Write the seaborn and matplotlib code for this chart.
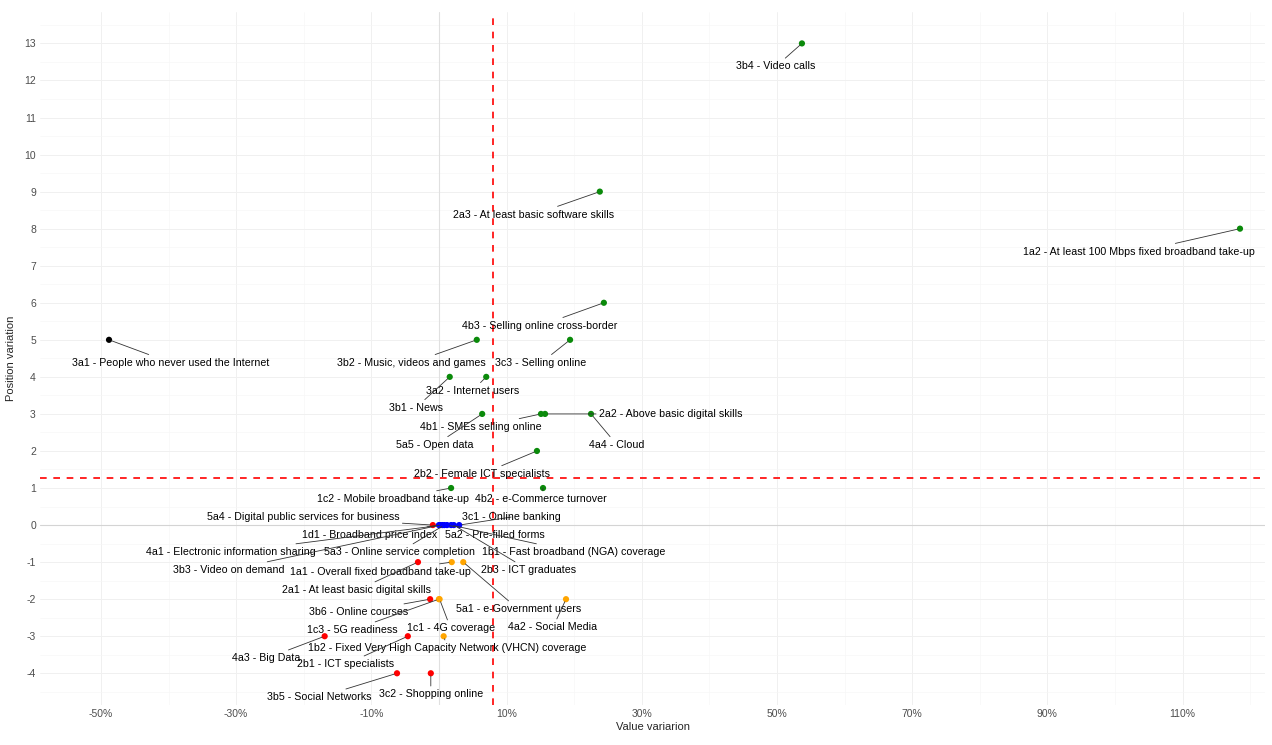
import numpy as np
import pandas as pd
import seaborn as sns
import matplotlib.pyplot as plt
from matplotlib.ticker import MultipleLocator, PercentFormatter

# Indicatori: codice, nome, variazione del valore e della posizione
codes = ["3b4", "2a3", "1a2", "4b3", "3a1", "3b2", "3c3", "3a2", "3b1",
         "4b1", "5a5", "2a2", "4a4", "2b2", "1c2", "4b2",
         "5a4", "3c1", "1d1", "5a2", "4a1", "5a3", "3b3", "1b1", "2b3",
         "1a1", "5a1", "2a1", "3b6", "1c3", "1c1", "4a2",
         "4a3", "1b2", "2b1", "3b5", "3c2"]
names = ["Video calls", "At least basic software skills",
         "At least 100 Mbps fixed broadband take-up", "Selling online cross-border",
         "People who never used the Internet", "Music, videos and games",
         "Selling online", "Internet users", "News",
         "SMEs selling online", "Open data", "Above basic digital skills", "Cloud",
         "Female ICT specialists", "Mobile broadband take-up", "e-Commerce turnover",
         "Digital public services for business", "Online banking",
         "Broadband price index", "Pre-filled forms", "Electronic information sharing",
         "Online service completion", "Video on demand",
         "Fast broadband (NGA) coverage", "ICT graduates",
         "Overall fixed broadband take-up", "e-Government users",
         "At least basic digital skills", "Online courses", "5G readiness",
         "4G coverage", "Social Media",
         "Big Data", "Fixed Very High Capacity Network (VHCN) coverage",
         "ICT specialists", "Social Networks", "Shopping online"]
value_var = [0.537, 0.238, 1.185, 0.244, -0.488, 0.056, 0.194, 0.070, 0.016,
             0.151, 0.064, 0.157, 0.225, 0.145, 0.018, 0.154,
             -0.009, 0.030, 0.000, 0.012, 0.005, 0.008, 0.002, 0.018, 0.022,
             0.019, 0.036, -0.031, -0.013, 0.000, 0.001, 0.188,
             -0.169, 0.007, -0.046, -0.062, -0.012]
position_var = [13, 9, 8, 6, 5, 5, 5, 4, 4,
                3, 3, 3, 3, 2, 1, 1,
                0, 0, 0, 0, 0, 0, 0, 0, 0,
                -1, -1, -1, -2, -2, -2, -2,
                -3, -3, -3, -4, -4]

# posizione delle etichette (offset in pixel rispetto al punto)
label_offsets = [(-26, -23), (-66, -23), (-101, -23), (-64, -23), (62, -23),
                 (-65, -23), (-29, -23), (-14, -14), (-34, -31),
                 (-60, -13), (-47, -31), (126, 0), (26, -31), (-55, -23),
                 (-58, -11), (-2, -11),
                 (-130, 8), (52, 8), (-69, -10), (48, -10), (-211, -27),
                 (-45, -27), (-212, -45), (123, -27), (75, -45),
                 (-71, -10), (55, -47), (-61, -28), (-72, -13), (-87, -31),
                 (11, -29), (-13, -28),
                 (-58, -22), (4, -12), (-62, -28), (-78, -24), (0, -21)]

df = pd.DataFrame({"code": codes, "name": names,
                   "value": value_var, "position": position_var})


def gruppo(x, y):
    if y > 0:
        return "up_pos" if x >= 0 else "up_neg"
    if y == 0 and x >= 0:
        return "same"
    return "down_pos" if x >= 0 else "down_neg"


df["group"] = [gruppo(x, y) for x, y in zip(df["value"], df["position"])]
palette = {"up_pos": "#0a8a0a", "up_neg": "black", "same": "blue",
           "down_pos": "orange", "down_neg": "red"}

sns.set_style("white")
plt.rcParams["font.family"] = ["Liberation Sans", "DejaVu Sans"]
plt.rcParams["axes.unicode_minus"] = False

fig, ax = plt.subplots(figsize=(12.72, 7.45), dpi=100)
fig.subplots_adjust(left=0.0315, right=0.9945, top=0.984, bottom=0.054)

# griglia stile theme_minimal
ax.xaxis.set_major_locator(MultipleLocator(0.2))
ax.xaxis.set_minor_locator(MultipleLocator(0.1))
ax.yaxis.set_major_locator(MultipleLocator(1))
ax.yaxis.set_minor_locator(MultipleLocator(0.5))
ax.grid(which="major", color="#f0f0f0", linewidth=0.7)
ax.grid(which="minor", color="#f6f6f6", linewidth=0.45)
ax.set_axisbelow(True)
for s in ax.spines.values():
    s.set_visible(False)

ax.axhline(0, color="#d4d4d4", linewidth=0.8, zorder=1)
ax.axvline(0, color="#e0e0e0", linewidth=0.8, zorder=1)

sns.scatterplot(data=df, x="value", y="position", hue="group", palette=palette,
                s=20, linewidth=0, legend=False, zorder=3, ax=ax)

# linee medie
ax.axhline(np.mean(df["position"]), color="red", linestyle=(0, (4, 4)),
           linewidth=1.2, zorder=2)
ax.axvline(np.mean(df["value"]), color="red", linestyle=(0, (4, 4)),
           linewidth=1.2, zorder=2)

for (c, n, x, y), (dx, dy) in zip(zip(codes, names, value_var, position_var),
                                  label_offsets):
    ax.annotate(f"{c} - {n}", xy=(x, y), xytext=(dx, dy),
                textcoords="offset pixels", ha="center", va="center",
                fontsize=7.7, color="black", zorder=4,
                arrowprops=dict(arrowstyle="-", color="#333333", lw=0.6,
                                shrinkA=0, shrinkB=2))

ax.set_xlim(-0.59, 1.222)
ax.set_ylim(-4.85, 13.85)
ax.xaxis.set_major_formatter(PercentFormatter(1.0, decimals=0))
ax.set_xticks(np.arange(-0.5, 1.11, 0.2))
ax.tick_params(axis="both", which="both", length=0, labelsize=7.5,
               labelcolor="#4d4d4d", pad=3)
ax.set_xlabel("Value variarion", fontsize=8, labelpad=2)
ax.set_ylabel("Position variation", fontsize=8, labelpad=6)

fig.savefig("out.png", dpi=100)
